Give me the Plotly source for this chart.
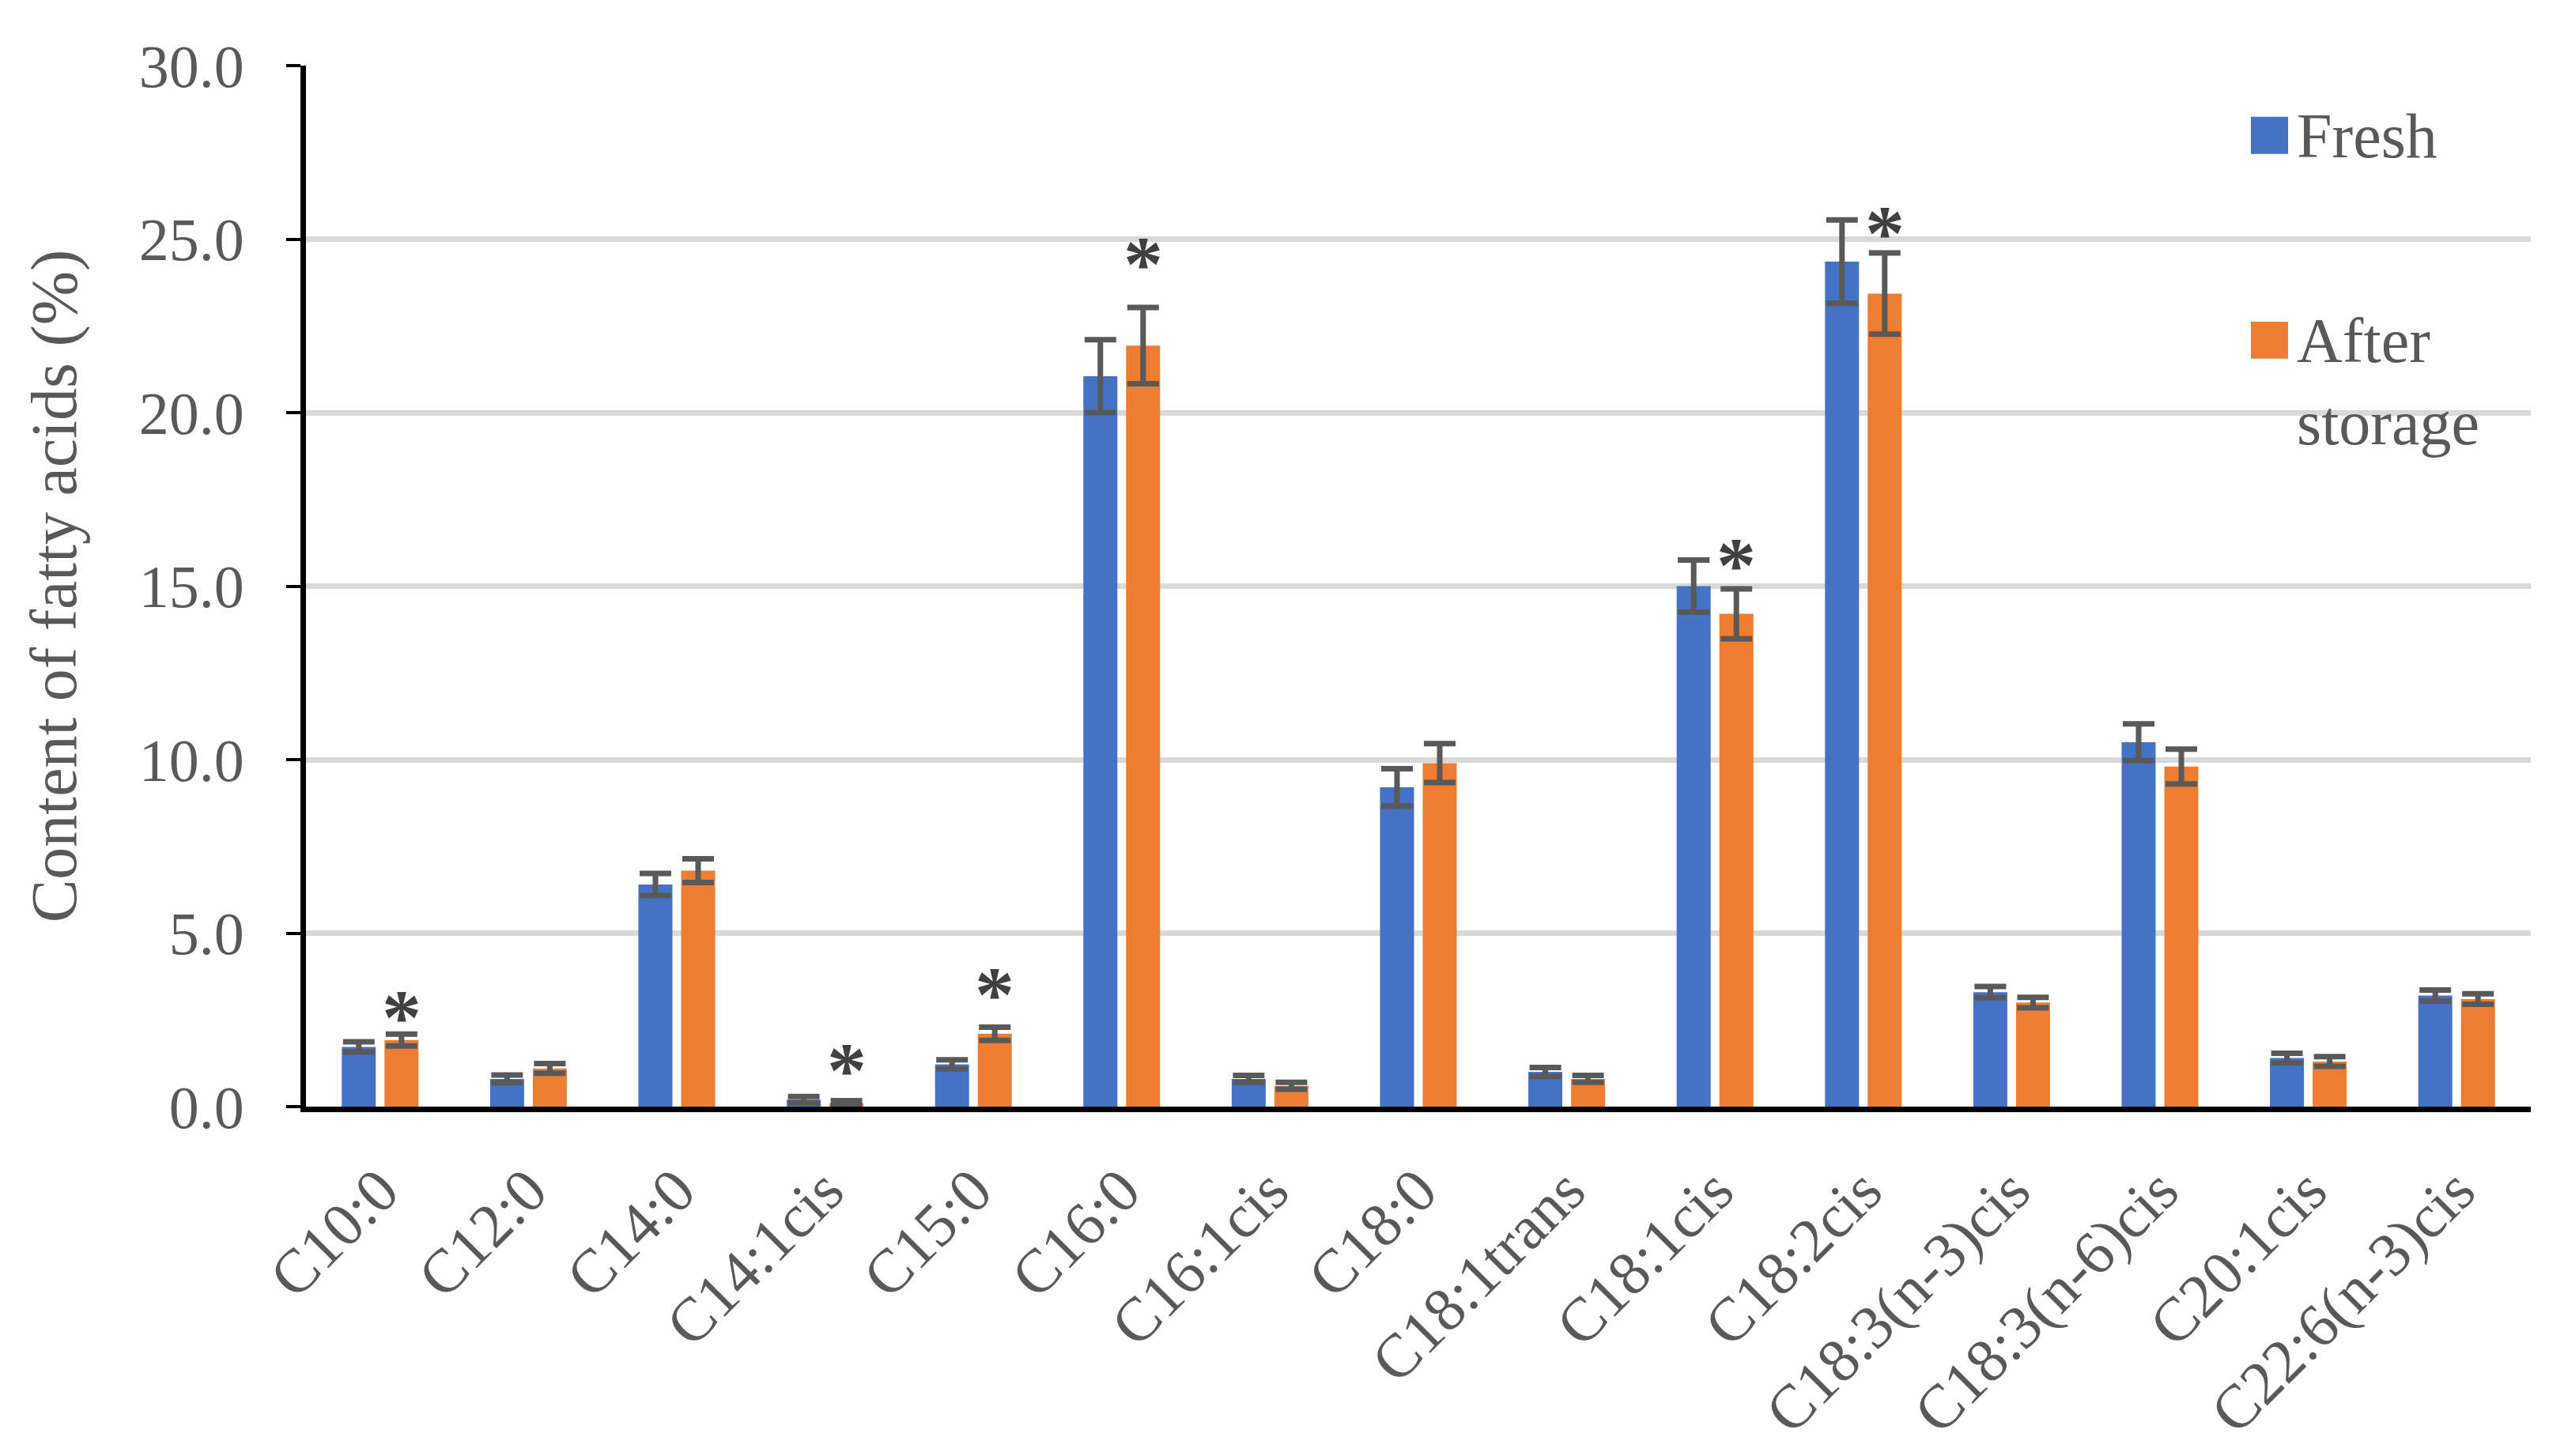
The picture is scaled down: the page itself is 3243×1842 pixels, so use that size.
import plotly.graph_objects as go

categories = ["C10:0", "C12:0", "C14:0", "C14:1cis", "C15:0", "C16:0", "C16:1cis",
              "C18:0", "C18:1trans", "C18:1cis", "C18:2cis", "C18:3(n-3)cis",
              "C18:3(n-6)cis", "C20:1cis", "C22:6(n-3)cis"]
series_names = ["Fresh", "After<br>storage"]
fresh = [1.72, 0.80, 6.40, 0.20, 1.22, 21.05, 0.80, 9.20, 1.00, 15.00, 24.35, 3.30, 10.50, 1.40, 3.20]
fresh_err = [0.15, 0.11, 0.32, 0.09, 0.13, 1.05, 0.10, 0.54, 0.13, 0.75, 1.20, 0.16, 0.53, 0.14, 0.16]
stored = [1.92, 1.10, 6.80, 0.10, 2.10, 21.93, 0.60, 9.90, 0.80, 14.20, 23.43, 3.00, 9.80, 1.30, 3.10]
stored_err = [0.17, 0.14, 0.34, 0.07, 0.19, 1.10, 0.10, 0.56, 0.10, 0.72, 1.17, 0.15, 0.50, 0.14, 0.15]
sig_categories = ["C10:0", "C14:1cis", "C15:0", "C16:0", "C18:1cis", "C18:2cis"]
sig_marker_y = [3.0, 1.47, 3.65, 24.7, 16.03, 25.6]
y_ticks = [0, 5, 10, 15, 20, 25, 30]

BLUE = "#4472C4"
ORANGE = "#ED7D31"
GREY = "#595959"
FONT = "Liberation Serif, Palatino Linotype, serif"

# page body has an 8px default margin; compensate so the plot lands where the reference is
OFF = 8
W, H = 3243 - OFF, 1842 - OFF
ML, MR, MT, MB = 387 - OFF, 42, 83 - OFF, 438
PW = W - ML - MR
PH = H - MT - MB

fig = go.Figure()
for vals, errs, color in [(fresh, fresh_err, BLUE), (stored, stored_err, ORANGE)]:
    fig.add_trace(go.Bar(
        x=categories, y=vals, marker=dict(color=color, line=dict(width=0)),
        error_y=dict(type="data", array=errs, visible=True, color=GREY,
                     thickness=7, width=20),
        showlegend=False,
    ))

# significance markers over the "After storage" bars
cat_px = PW / len(categories)
group_w = cat_px * (1 - 0.424)
for c, yv in zip(sig_categories, sig_marker_y):
    fig.add_annotation(x=c, y=yv, xref="x", yref="y", text="<b>*</b>", showarrow=False,
                       xshift=group_w / 4, yshift=-18, yanchor="middle",
                       font=dict(family=FONT, size=100, color="#404040"))

# manual legend (large square symbols), positions given in page pixels
def px_x(p):
    return (p - OFF - ML) / PW

def px_y(p):
    return (MT + PH - (p - OFF)) / PH

legend_rows = [(148, BLUE), (408, ORANGE)]
for (top, color), name in zip(legend_rows, series_names):
    fig.add_shape(type="rect", xref="paper", yref="paper",
                  x0=px_x(2847), x1=px_x(2894), y0=px_y(top), y1=px_y(top + 47),
                  fillcolor=color, line=dict(width=0))
    fig.add_annotation(x=px_x(2903), y=px_y(top - 22), xref="paper", yref="paper",
                       text=name, showarrow=False, xanchor="left", yanchor="top",
                       align="left", font=dict(family=FONT, size=80, color=GREY))

fig.update_layout(
    width=W, height=H,
    margin=dict(l=ML, r=MR, t=MT, b=MB, pad=0),
    paper_bgcolor="white", plot_bgcolor="white",
    barmode="group", bargap=0.424, bargroupgap=0.204,
    font=dict(family=FONT, color=GREY),
)
fig.update_xaxes(
    showline=True, linecolor="black", linewidth=7, tickangle=-45,
    tickfont=dict(family=FONT, size=78, color=GREY), ticks="", showgrid=False,
    ticklabelstandoff=22,
)
fig.update_yaxes(
    range=[0, 30], tickvals=y_ticks, tickformat=".1f",
    showline=True, linecolor="black", linewidth=7,
    ticks="outside", ticklen=18, tickwidth=4, tickcolor="black",
    showgrid=True, gridcolor="#D9D9D9", gridwidth=7, zeroline=False,
    tickfont=dict(family=FONT, size=76, color=GREY), ticklabelstandoff=38,
    title=dict(text="Content of fatty acids (%)", standoff=55,
               font=dict(family=FONT, size=82, color=GREY)),
)

fig.write_html("out.html")
